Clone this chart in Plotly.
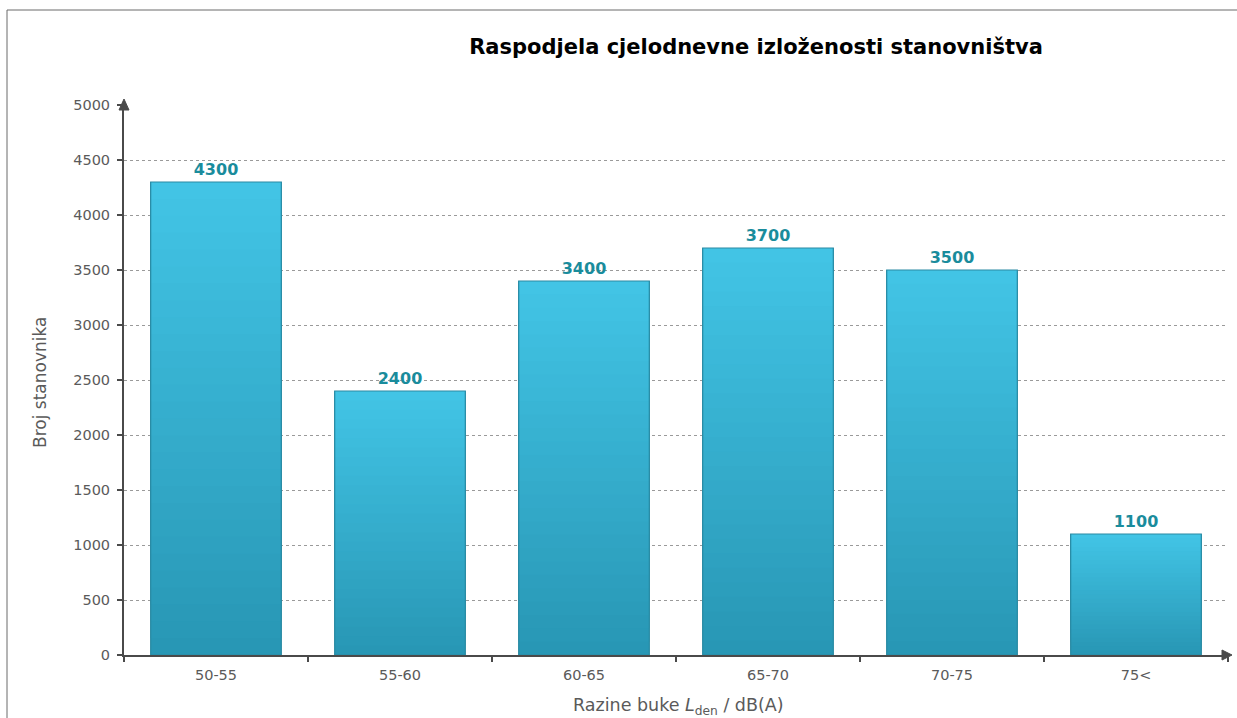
import plotly.graph_objects as go

categories = ["50-55", "55-60", "60-65", "65-70", "70-75", "75<"]
population = [4300, 2400, 3400, 3700, 3500, 1100]
y_ticks = [0, 500, 1000, 1500, 2000, 2500, 3000, 3500, 4000, 4500, 5000]

title_text = "Raspodjela cjelodnevne izloženosti stanovništva"
y_title = "Broj stanovnika"
x_title = "Razine buke <i>L</i><sub>den</sub> / dB(A)"

FONT = "DejaVu Sans"
AXIS_COLOR = "#4a4a4a"
TEXT_GREY = "#5a5a5a"

# Plot-area geometry in pixels
W, H = 1237, 718
ML, MR, MT, MB = 124, 9, 105, 63
PW, PH = W - ML - MR, H - MT - MB

BAR_WIDTH = 0.71
N_SLICES = 28
TOP_RGB = (66, 197, 230)
BOTTOM_RGB = (40, 150, 180)


def blend(t):
    r, g, b = (round(BOTTOM_RGB[k] + (TOP_RGB[k] - BOTTOM_RGB[k]) * t) for k in range(3))
    return f"rgb({r},{g},{b})"


fig = go.Figure()

# Vertical gradient fill: each layer runs from a fraction of the value up to
# the bar top, so lighter layers drawn later cover the upper part seamlessly
for i in range(N_SLICES):
    fig.add_trace(go.Bar(
        x=categories,
        y=[v * (1 - i / N_SLICES) for v in population],
        base=[v * i / N_SLICES for v in population],
        width=BAR_WIDTH,
        marker=dict(color=blend((i + 0.5) / N_SLICES), line=dict(width=0)),
        textposition="none",
        hoverinfo="skip",
    ))

# Outline and value labels
fig.add_trace(go.Bar(
    x=categories,
    y=population,
    width=BAR_WIDTH,
    marker=dict(color="rgba(0,0,0,0)", line=dict(color="#2a8aa3", width=1.2)),
    text=[str(v) for v in population],
    textposition="outside",
    textfont=dict(family=FONT, size=16, color="#1a8c9c", weight="bold"),
    cliponaxis=False,
    hoverinfo="x+y",
))

fig.update_layout(
    width=W,
    height=H,
    margin=dict(l=ML, r=MR, t=MT, b=MB, autoexpand=False),
    paper_bgcolor="white",
    plot_bgcolor="white",
    showlegend=False,
    barmode="overlay",
    font=dict(family=FONT, color=TEXT_GREY),
    title=dict(
        text=f"<b>{title_text}</b>",
        font=dict(family=FONT, size=21, color="#000000"),
        x=756 / W, xanchor="center",
        y=1 - 47 / H, yanchor="middle",
    ),
)

fig.update_xaxes(
    type="category",
    range=[-0.5, 5.5],
    automargin=False,
    showline=True, linecolor=AXIS_COLOR, linewidth=2,
    tickson="boundaries", ticks="outside", ticklen=5, tickwidth=2, tickcolor=AXIS_COLOR,
    tickfont=dict(family=FONT, size=14.5, color=TEXT_GREY),
    ticklabelstandoff=6,
    showgrid=False,
)

fig.update_yaxes(
    range=[0, 5000],
    tickvals=y_ticks,
    automargin=False,
    showline=True, linecolor=AXIS_COLOR, linewidth=2,
    ticks="outside", ticklen=5, tickwidth=2, tickcolor=AXIS_COLOR,
    tickfont=dict(family=FONT, size=14.5, color=TEXT_GREY),
    ticklabelstandoff=4,
    showgrid=True, gridcolor="#9a9a9a", gridwidth=1, griddash="dot",
    zeroline=False,
)

# Axis titles
fig.add_annotation(
    text=x_title, xref="paper", yref="paper",
    x=(678 - ML) / PW, y=(MT + PH - 706) / PH,
    xanchor="center", yanchor="middle", showarrow=False,
    font=dict(family=FONT, size=17.5, color=TEXT_GREY),
)
fig.add_annotation(
    text=y_title, xref="paper", yref="paper",
    x=(40 - ML) / PW, y=(MT + PH - 383) / PH,
    xanchor="center", yanchor="middle", showarrow=False, textangle=-90,
    font=dict(family=FONT, size=17, color=TEXT_GREY),
)

# Arrow heads at the ends of both axes
fig.add_shape(
    type="path", xref="paper", yref="paper",
    xsizemode="pixel", ysizemode="pixel", xanchor=1.0, yanchor=0.0,
    path="M -6,5 L 4,0 L -6,-5 Z",
    fillcolor=AXIS_COLOR, line=dict(color=AXIS_COLOR, width=1),
)
fig.add_shape(
    type="path", xref="paper", yref="paper",
    xsizemode="pixel", ysizemode="pixel", xanchor=0.0, yanchor=1.0,
    path="M -5,-5 L 0,6 L 5,-5 Z",
    fillcolor=AXIS_COLOR, line=dict(color=AXIS_COLOR, width=1),
)

# Frame of the chart panel: left and top edges
frame_x = (7 - ML) / PW
frame_y = (PH + MT - 10) / PH
fig.add_shape(type="line", xref="paper", yref="paper",
              x0=frame_x, x1=frame_x, y0=-MB / PH - 0.1, y1=frame_y,
              line=dict(color="#6a6a6a", width=1))
fig.add_shape(type="line", xref="paper", yref="paper",
              x0=frame_x, x1=1 + (MR + 20) / PW, y0=frame_y, y1=frame_y,
              line=dict(color="#6a6a6a", width=1))

fig.write_html("out.html")
